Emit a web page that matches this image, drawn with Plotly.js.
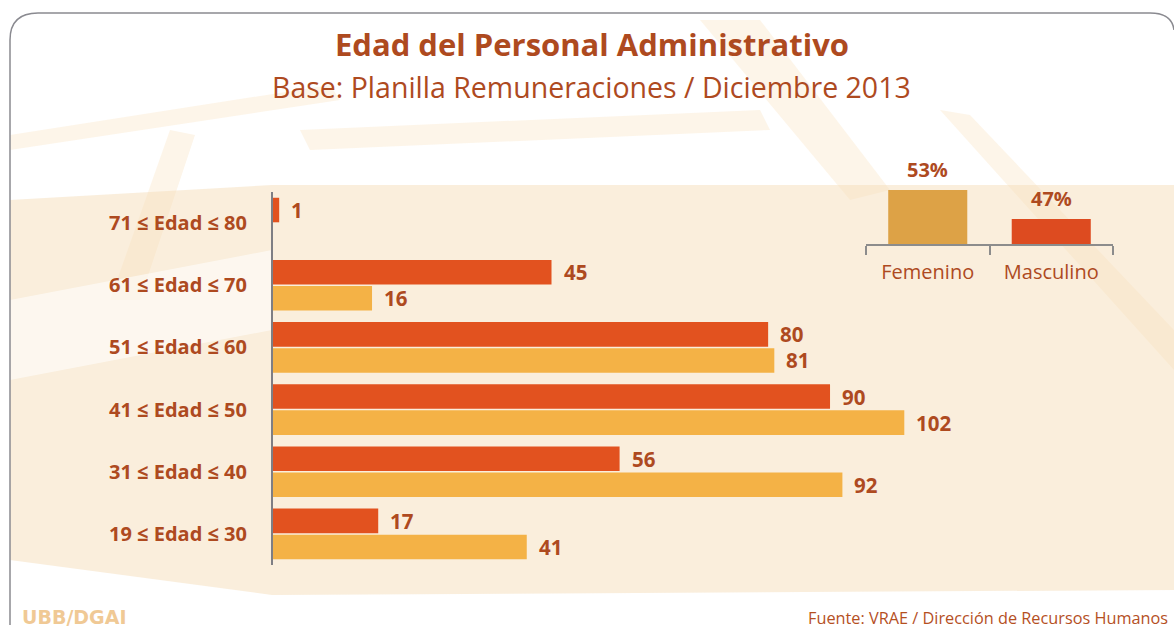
<!DOCTYPE html>
<html><head><meta charset="utf-8">
<script src="https://cdn.plot.ly/plotly-3.0.1.min.js"></script>
<style>html,body{margin:0;padding:0;background:#fff}#chart{width:1174px;height:630px}</style>
</head><body><div id="chart"></div>
<script>
// ---- data ----
const categories = ['19 ≤ Edad ≤ 30','31 ≤ Edad ≤ 40','41 ≤ Edad ≤ 50','51 ≤ Edad ≤ 60','61 ≤ Edad ≤ 70','71 ≤ Edad ≤ 80'];
const masculino = [17, 56, 90, 80, 45, 1];
const femenino  = [41, 92, 102, 81, 16, null];
const genders = ['Femenino', 'Masculino'];
const genderShare = [53, 47];
const titleText = 'Edad del Personal Administrativo';
const subtitleText = 'Base: Planilla Remuneraciones / Diciembre 2013';
const sourceText = 'Fuente: VRAE / Dirección de Recursos Humanos';
const brandText = 'UBB/DGAI';

// ---- helpers (pixel -> paper) ----
const W = 1174, H = 630;
const px = x => x / W, py = y => 1 - y / H;
const FONT = '"Open Sans", Lato, sans-serif';
const TXT = '#AE4A1F';
const C_MASC = '#E2521F';
const C_FEM = '#F4B246';

function pathPx(pts) {
  return pts.map(p => {
    if (p.length === 1) return p[0];
    const coords = [];
    for (let i = 1; i < p.length; i += 2) coords.push(px(p[i]) + ',' + py(p[i + 1]));
    return p[0] + ' ' + coords.join(' ');
  }).join(' ');
}

const traces = [
  { type: 'bar', orientation: 'h', name: 'Femenino', y: categories, x: femenino,
    xaxis: 'x', yaxis: 'y', marker: { color: C_FEM }, hoverinfo: 'x+y' },
  { type: 'bar', orientation: 'h', name: 'Masculino', y: categories, x: masculino,
    xaxis: 'x', yaxis: 'y', marker: { color: C_MASC }, hoverinfo: 'x+y' },
  { type: 'bar', x: genders, y: genderShare, xaxis: 'x2', yaxis: 'y2', width: 0.64,
    marker: { color: ['#DDA246', '#DD4B20'] }, hoverinfo: 'x+y' }
];

const annotations = [];
categories.forEach((c, i) => {
  if (masculino[i] != null) annotations.push({ x: masculino[i], y: c, xref: 'x', yref: 'y',
    xanchor: 'left', yanchor: 'middle', xshift: 10, yshift: 13, showarrow: false,
    text: '<b>' + masculino[i] + '</b>', font: { family: FONT, size: 20.5, color: TXT } });
  if (femenino[i] != null) annotations.push({ x: femenino[i], y: c, xref: 'x', yref: 'y',
    xanchor: 'left', yanchor: 'middle', xshift: 10, yshift: -13, showarrow: false,
    text: '<b>' + femenino[i] + '</b>', font: { family: FONT, size: 20.5, color: TXT } });
});
genders.forEach((g, i) => annotations.push({ x: g, y: genderShare[i], xref: 'x2', yref: 'y2',
  xanchor: 'center', yanchor: 'bottom', yshift: 5, showarrow: false,
  text: '<b>' + genderShare[i] + '%</b>', font: { family: FONT, size: 20, color: TXT } }));
annotations.push({ text: subtitleText, xref: 'paper', yref: 'paper', x: px(592), y: py(87),
  xanchor: 'center', yanchor: 'middle', showarrow: false, font: { family: FONT, size: 28.5, color: TXT } });
annotations.push({ text: sourceText, xref: 'paper', yref: 'paper', x: px(1170), y: py(618),
  xanchor: 'right', yanchor: 'middle', showarrow: false, font: { family: FONT, size: 16.3, color: '#B5501F' } });
annotations.push({ text: '<b>' + brandText + '</b>', xref: 'paper', yref: 'paper', x: px(20), y: py(617),
  xanchor: 'left', yanchor: 'middle', showarrow: false, font: { family: '"DejaVu Sans", Arial, sans-serif', size: 19, color: '#F0C995' } });

const band = 'rgba(245,208,155,0.22)';
const shapes = [
  // faint watermark bands
  { type: 'path', xref: 'paper', yref: 'paper', layer: 'below', line: { width: 0 }, fillcolor: band,
    path: pathPx([['M', 10, 135], ['L', 330, 85], ['L', 340, 100], ['L', 10, 150], ['Z']]) },
  { type: 'path', xref: 'paper', yref: 'paper', layer: 'below', line: { width: 0 }, fillcolor: band,
    path: pathPx([['M', 110, 300], ['L', 170, 130], ['L', 195, 135], ['L', 140, 300], ['Z']]) },
  { type: 'path', xref: 'paper', yref: 'paper', layer: 'below', line: { width: 0 }, fillcolor: band,
    path: pathPx([['M', 700, 20], ['L', 760, 20], ['L', 890, 190], ['L', 850, 200], ['Z']]) },
  { type: 'path', xref: 'paper', yref: 'paper', layer: 'below', line: { width: 0 }, fillcolor: band,
    path: pathPx([['M', 940, 110], ['L', 970, 115], ['L', 1174, 330], ['L', 1174, 370], ['Z']]) },
  { type: 'path', xref: 'paper', yref: 'paper', layer: 'below', line: { width: 0 }, fillcolor: band,
    path: pathPx([['M', 300, 130], ['L', 760, 110], ['L', 770, 130], ['L', 310, 150], ['Z']]) },
  // cream backdrop behind bars
  { type: 'path', xref: 'paper', yref: 'paper', layer: 'below', line: { width: 0 }, fillcolor: 'rgba(246,222,186,0.5)',
    path: pathPx([['M', 10, 200], ['L', 272, 185], ['L', 1174, 185], ['L', 1174, 590], ['L', 272, 595], ['L', 10, 560], ['Z']]) },
  { type: 'path', xref: 'paper', yref: 'paper', layer: 'below', line: { width: 0 }, fillcolor: 'rgba(255,255,255,0.55)',
    path: pathPx([['M', 10, 300], ['L', 272, 250], ['L', 272, 330], ['L', 10, 380], ['Z']]) },
  // rounded frame
  { type: 'path', xref: 'paper', yref: 'paper', layer: 'below', line: { color: '#8A8A90', width: 1.5 }, fillcolor: 'rgba(0,0,0,0)',
    path: pathPx([['M', 10, 625], ['L', 10, 40], ['Q', 10, 13, 38, 13], ['L', 1150, 13], ['Q', 1172, 13, 1174, 30]]) }
];

const layout = {
  width: W, height: H,
  margin: { l: 0, r: 0, t: 0, b: 0 },
  paper_bgcolor: '#ffffff', plot_bgcolor: 'rgba(0,0,0,0)',
  showlegend: false,
  barmode: 'group', bargap: 0.16, bargroupgap: 0.06,
  font: { family: FONT, color: TXT },
  title: { text: '<b>' + titleText + '</b>', x: px(592), xanchor: 'center', y: py(45), yanchor: 'middle',
    font: { family: FONT, size: 31, color: TXT } },
  xaxis: { domain: [px(273), px(960)], range: [0, 111], visible: false, fixedrange: true },
  yaxis: { domain: [py(565), py(192)], type: 'category', categoryarray: categories, categoryorder: 'array',
    showline: true, linecolor: '#7E7E84', linewidth: 2, ticks: '', showgrid: false, zeroline: false,
    ticklabelstandoff: 20, tickfont: { family: FONT, size: 20, color: TXT, weight: 'bold' }, fixedrange: true },
  xaxis2: { domain: [px(866), px(1113)], anchor: 'y2', type: 'category', showline: true, linecolor: '#8C8C8C',
    linewidth: 2, ticks: 'outside', tickson: 'boundaries', ticklen: 9, tickwidth: 2, tickcolor: '#8C8C8C',
    showgrid: false, tickfont: { family: FONT, size: 20, color: TXT }, ticklabelstandoff: 9, fixedrange: true },
  yaxis2: { domain: [py(244), py(190)], anchor: 'x2', range: [41.8, 53], visible: false, fixedrange: true },
  annotations: annotations,
  shapes: shapes
};

Plotly.newPlot('chart', traces, layout, { displayModeBar: false, staticPlot: true });
</script>
</body></html>
